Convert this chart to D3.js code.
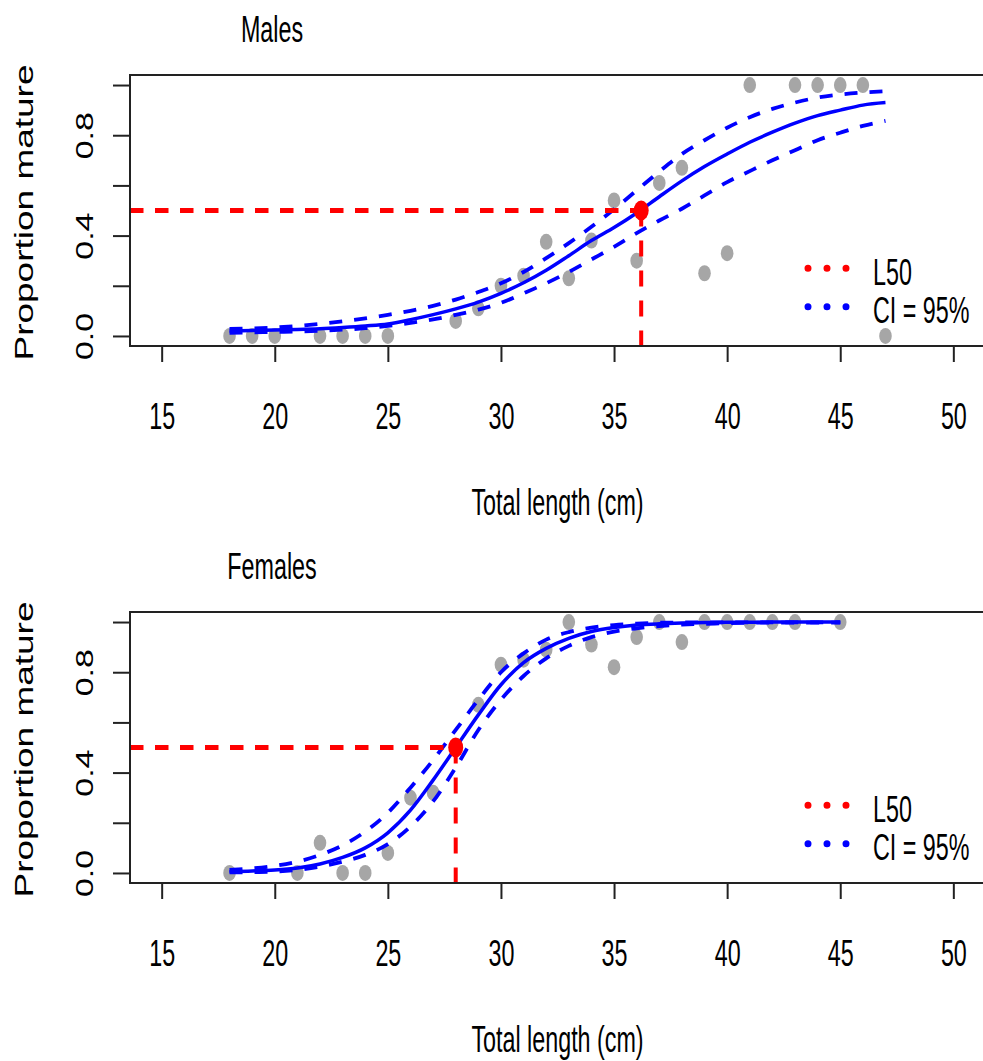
<!DOCTYPE html>
<html>
<head>
<meta charset="utf-8">
<script src="https://cdn.jsdelivr.net/npm/d3@7"></script>
<style>
  body { margin: 0; background: #fff; }
  svg { display: block; }
</style>
</head>
<body>
<div id="chart"></div>
<script>

// observed proportion mature per length class (cm)
const maleLength = [18, 19, 20, 22, 23, 24, 25, 28, 29, 30, 31, 32, 33, 34, 35, 36, 37, 38, 39, 40, 41, 43, 44, 45, 46, 47];
const maleProp   = [0, 0, 0, 0, 0, 0, 0, 0.06, 0.11, 0.20, 0.24, 0.375, 0.23, 0.38, 0.54, 0.30, 0.61, 0.67, 0.25, 0.33, 1, 1, 1, 1, 1, 0];

const femaleLength = [18, 21, 22, 23, 24, 25, 26, 27, 29, 30, 31, 32, 33, 34, 35, 36, 37, 38, 39, 40, 41, 42, 43, 45];
const femaleProp   = [0, 0, 0.12, 0, 0, 0.08, 0.30, 0.32, 0.67, 0.83, 0.85, 0.89, 1, 0.91, 0.82, 0.94, 1, 0.92, 1, 1, 1, 1, 1, 1];

const maleFitLength = [18, 19, 20, 21, 22, 23, 24, 25, 26, 27, 28, 29, 30, 31, 32, 33, 34, 35, 36, 37, 38, 39, 40, 41, 42, 43, 44, 45, 46, 47];
const maleFit   = [0.020, 0.022, 0.024, 0.026, 0.029, 0.034, 0.040, 0.048, 0.065, 0.085, 0.108, 0.135, 0.170, 0.212, 0.262, 0.320, 0.380, 0.432, 0.490, 0.555, 0.618, 0.675, 0.725, 0.772, 0.812, 0.848, 0.878, 0.900, 0.920, 0.930];
const maleUpper = [0.028, 0.030, 0.034, 0.040, 0.048, 0.058, 0.070, 0.084, 0.100, 0.120, 0.145, 0.175, 0.210, 0.255, 0.310, 0.370, 0.435, 0.505, 0.580, 0.655, 0.725, 0.780, 0.830, 0.872, 0.905, 0.930, 0.950, 0.962, 0.970, 0.975];
const maleLower = [0.012, 0.014, 0.016, 0.018, 0.021, 0.025, 0.031, 0.040, 0.052, 0.066, 0.084, 0.105, 0.132, 0.170, 0.210, 0.255, 0.305, 0.355, 0.410, 0.460, 0.507, 0.560, 0.613, 0.657, 0.700, 0.740, 0.780, 0.810, 0.837, 0.857];

const femaleFitLength = [18, 19, 20, 21, 22, 23, 24, 25, 26, 27, 28, 29, 30, 31, 32, 33, 34, 35, 36, 37, 38, 39, 40, 41, 42, 43, 44, 45];
const femaleFit   = [0.006, 0.008, 0.012, 0.020, 0.036, 0.062, 0.100, 0.160, 0.250, 0.370, 0.500, 0.630, 0.750, 0.838, 0.895, 0.935, 0.962, 0.978, 0.988, 0.993, 0.996, 0.998, 0.999, 0.999, 1, 1, 1, 1];
const femaleUpper = [0.012, 0.018, 0.028, 0.045, 0.072, 0.110, 0.165, 0.240, 0.340, 0.450, 0.570, 0.690, 0.800, 0.875, 0.930, 0.960, 0.978, 0.988, 0.994, 0.997, 0.998, 0.999, 0.999, 0.999, 0.999, 0.999, 0.999, 0.999];
const femaleLower = [0.002, 0.003, 0.005, 0.012, 0.025, 0.045, 0.072, 0.115, 0.185, 0.285, 0.420, 0.570, 0.690, 0.785, 0.855, 0.905, 0.940, 0.962, 0.975, 0.984, 0.990, 0.993, 0.995, 0.997, 0.998, 0.998, 0.998, 0.998];

// length at 50% maturity
const panelTitles = ["Males", "Females"];
const l50 = [36.2, 28.0];

const xTicks = [15, 20, 25, 30, 35, 40, 45, 50];
const yTicks = [0, 0.2, 0.4, 0.6, 0.8, 1.0];
const yTickLabels = ["0.0", "", "0.4", "", "0.8", ""];
const legendLabels = ["L50", "CI = 95%"];
const xTitle = "Total length (cm)";
const yTitle = "Proportion mature";

const font = "'Liberation Sans', Arial, Helvetica, sans-serif",
  red = "#ff0000",
  blue = "#0000ff",
  grey = "#a6a6a6",
  ink = "#222";

function zip(xs, ys) {
  return xs.map((v, i) => ({len: v, p: ys[i]}));
}

const panels = [
  {
    title: panelTitles[0], l50: l50[0],
    points: zip(maleLength, maleProp),
    fit: zip(maleFitLength, maleFit),
    upper: zip(maleFitLength, maleUpper),
    lower: zip(maleFitLength, maleLower)
  },
  {
    title: panelTitles[1], l50: l50[1],
    points: zip(femaleLength, femaleProp),
    fit: zip(femaleFitLength, femaleFit),
    upper: zip(femaleFitLength, femaleUpper),
    lower: zip(femaleFitLength, femaleLower)
  }
];

const svg = d3.select("#chart").append("svg")
    .attr("width", 983)
    .attr("height", 1061)
    .attr("font-family", font);

const panelTop = [75, 612],
  boxLeft = 130,
  boxRight = 985,
  boxH = 271;

// the text in the original is drawn narrow, so squeeze it sideways
const narrow = (x, y) => "translate(" + x + "," + y + ") scale(0.63,1)";
const narrowUp = (x, y) => "translate(" + x + "," + y + ") scale(0.7,1) rotate(-90)";

panels.forEach((d, i) => {

  const g = svg.append("g")
      .attr("transform", "translate(0," + panelTop[i] + ")");

  const x = d3.scaleLinear().domain([13.6, 51.4]).range([boxLeft, boxRight]);
  const y = d3.scaleLinear().domain([-0.04, 1.04]).range([boxH, 0]);

  // axes
  g.append("g")
      .attr("transform", "translate(0," + boxH + ")")
      .call(d3.axisBottom(x).tickValues(xTicks).tickSize(16).tickFormat(d3.format("d")))
      .attr("font-family", font)
      .attr("font-size", 37)
      .call(a => a.select(".domain").remove())
      .call(a => a.selectAll(".tick line").attr("stroke", ink).attr("stroke-width", 2))
      .call(a => a.selectAll(".tick text")
          .attr("y", null).attr("dy", null)
          .attr("fill", "#000")
          .attr("transform", narrow(0, 82.5)));

  g.append("g")
      .attr("transform", "translate(" + boxLeft + ",0)")
      .call(d3.axisLeft(y).tickValues(yTicks).tickSize(17).tickFormat((v, j) => yTickLabels[j]))
      .attr("font-family", font)
      .attr("font-size", 34)
      .call(a => a.select(".domain").remove())
      .call(a => a.selectAll(".tick line").attr("stroke", ink).attr("stroke-width", 2))
      .call(a => a.selectAll(".tick text")
          .attr("x", null).attr("dy", null)
          .attr("text-anchor", "middle")
          .attr("fill", "#000")
          .attr("transform", narrowUp(-37, 0)));

  // observations
  g.selectAll(".obs")
    .data(d.points)
    .enter().append("ellipse")
      .attr("class", "obs")
      .attr("cx", p => x(p.len))
      .attr("cy", p => y(p.p))
      .attr("rx", 6.3)
      .attr("ry", 8)
      .attr("fill", grey);

  const line = d3.line()
      .x(p => x(p.len))
      .y(p => y(p.p))
      .curve(d3.curveMonotoneX);

  [d.upper, d.lower].forEach(band => {
    g.append("path")
        .attr("d", line(band))
        .attr("fill", "none")
        .attr("stroke", blue)
        .attr("stroke-width", 3.8)
        .attr("stroke-dasharray", "13,12");
  });

  g.append("path")
      .attr("d", line(d.fit))
      .attr("fill", "none")
      .attr("stroke", blue)
      .attr("stroke-width", 3.5);

  // L50 guide lines
  g.append("line")
      .attr("x1", boxLeft)
      .attr("x2", x(d.l50))
      .attr("y1", y(0.5))
      .attr("y2", y(0.5))
      .attr("stroke", red)
      .attr("stroke-width", 5)
      .attr("stroke-dasharray", "13.5,11.5");

  g.append("line")
      .attr("x1", x(d.l50))
      .attr("x2", x(d.l50))
      .attr("y1", y(0.5))
      .attr("y2", boxH)
      .attr("stroke", red)
      .attr("stroke-width", 4)
      .attr("stroke-dasharray", "16,14");

  g.append("ellipse")
      .attr("cx", x(d.l50))
      .attr("cy", y(0.5))
      .attr("rx", 7.5)
      .attr("ry", 10)
      .attr("fill", red);

  // frame
  g.append("rect")
      .attr("x", boxLeft)
      .attr("y", 0)
      .attr("width", boxRight - boxLeft)
      .attr("height", boxH)
      .attr("fill", "none")
      .attr("stroke", ink)
      .attr("stroke-width", 2);

  // legend
  const legend = g.append("g")
      .attr("transform", "translate(808,193.3)");

  legendLabels.forEach((label, j) => {
    const row = legend.append("g")
        .attr("transform", "translate(0," + (j * 38.4) + ")");
    row.append("line")
        .attr("x1", 0)
        .attr("x2", 40)
        .attr("stroke", j === 0 ? red : blue)
        .attr("stroke-width", 7)
        .attr("stroke-linecap", "round")
        .attr("stroke-dasharray", "0,19");
    row.append("text")
        .attr("transform", narrow(65, 16.7))
        .attr("font-size", 37)
        .attr("fill", "#000")
        .text(label);
  });

  // titles
  g.append("text")
      .attr("transform", narrow(272, -33))
      .attr("text-anchor", "middle")
      .attr("font-size", 37)
      .attr("fill", "#000")
      .text(d.title);

  g.append("text")
      .attr("transform", narrow((boxLeft + boxRight) / 2, boxH + 169))
      .attr("text-anchor", "middle")
      .attr("font-size", 37)
      .attr("fill", "#000")
      .text(xTitle);

  g.append("text")
      .attr("transform", narrowUp(33, boxH / 2 + 2))
      .attr("text-anchor", "middle")
      .attr("font-size", 37)
      .attr("fill", "#000")
      .text(yTitle);
});

</script>
</body>
</html>
